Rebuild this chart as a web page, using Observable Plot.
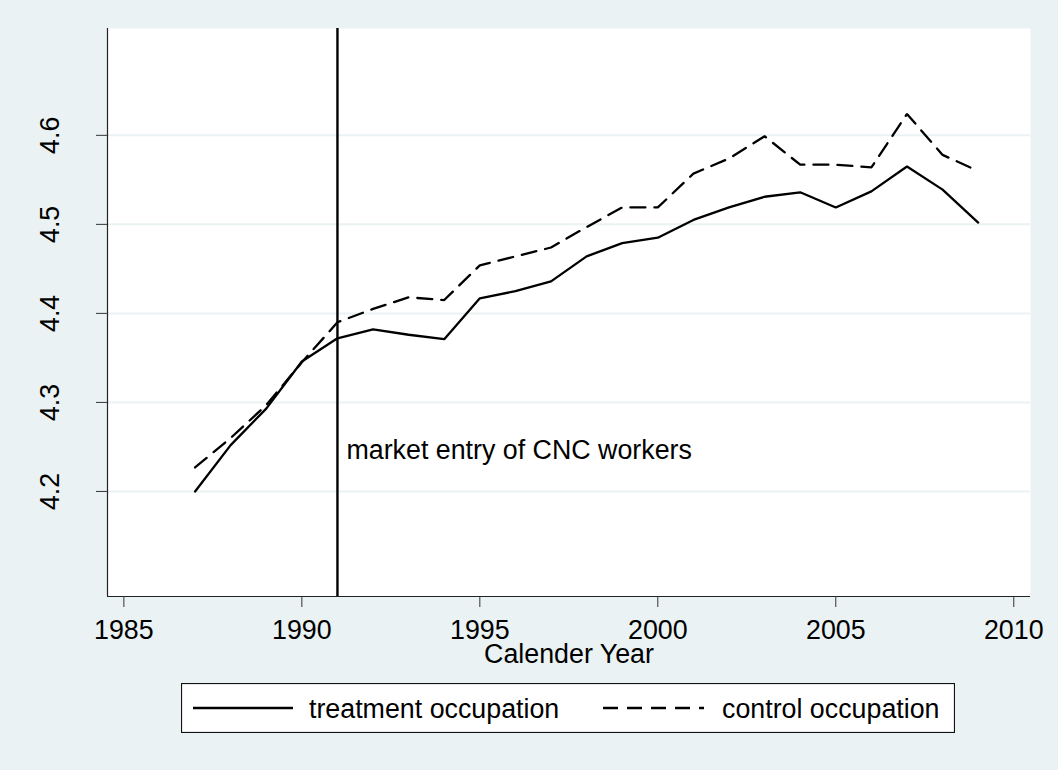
<!DOCTYPE html>
<html>
<head>
<meta charset="utf-8">
<script src="https://cdn.jsdelivr.net/npm/d3@7"></script>
<script src="https://cdn.jsdelivr.net/npm/@observablehq/plot@0.6"></script>
<style>
  html, body { margin: 0; padding: 0; background: #EAF2F3; }
  #wrap { position: relative; width: 1058px; height: 770px; background: #EAF2F3; overflow: hidden;
          font-family: "Liberation Sans", Arial, Helvetica, sans-serif; }
  #chart { position: absolute; left: 0; top: 0; }
  #legend { position: absolute; left: 181px; top: 683px; }
</style>
</head>
<body>
<div id="wrap">
  <div id="chart"></div>
  <div id="legend"></div>
</div>
<script>
// ---- data ----
const years = [1987, 1988, 1989, 1990, 1991, 1992, 1993, 1994, 1995, 1996, 1997, 1998,
               1999, 2000, 2001, 2002, 2003, 2004, 2005, 2006, 2007, 2008, 2009];
const treatment = [4.200, 4.252, 4.293, 4.346, 4.372, 4.382, 4.376, 4.371, 4.417, 4.425, 4.436, 4.464,
                   4.479, 4.485, 4.505, 4.519, 4.531, 4.536, 4.519, 4.537, 4.565, 4.539, 4.502];
const control = [4.227, 4.260, 4.297, 4.345, 4.390, 4.405, 4.418, 4.415, 4.454, 4.464, 4.474, 4.497,
                 4.519, 4.519, 4.557, 4.574, 4.599, 4.567, 4.567, 4.564, 4.624, 4.578, 4.560];
const seriesNames = ["treatment occupation", "control occupation"];
const xTicks = [1985, 1990, 1995, 2000, 2005, 2010];
const yTicks = [4.2, 4.3, 4.4, 4.5, 4.6];
const xDomain = [1984.54, 2010.47];
const yDomain = [4.082, 4.720];
const entryYear = [1991];
const annotation = [{year: 1991, value: 4.246, text: "market entry of CNC workers"}];
const xLabel = "Calender Year";

const treatRows = years.map((y, i) => ({year: y, value: treatment[i]}));
const ctrlRows = years.map((y, i) => ({year: y, value: control[i]}));

const FONT = "Liberation Sans, Arial, Helvetica, sans-serif";
const FS = 26.8;
const DASH = "15,9";

const chart = Plot.plot({
  width: 1058,
  height: 770,
  marginLeft: 107,
  marginRight: 28,
  marginTop: 28,
  marginBottom: 174,
  style: {background: "transparent", fontFamily: FONT, fontSize: FS + "px", color: "#000"},
  x: {domain: xDomain},
  y: {domain: yDomain},
  marks: [
    Plot.frame({fill: "white", stroke: null}),
    Plot.gridY(yTicks, {stroke: "#EAF2F3", strokeOpacity: 1, strokeWidth: 2}),
    Plot.ruleX([xDomain[0]], {stroke: "#222", strokeWidth: 1.2}),
    Plot.ruleY([yDomain[0]], {stroke: "#222", strokeWidth: 1.2}),
    Plot.axisX({ticks: xTicks, tickSize: 11, tickPadding: 12, tickFormat: d => String(d),
                label: null, fontSize: FS, stroke: "#333"}),
    Plot.axisY({ticks: yTicks, tickSize: 11, tickFormat: () => "", label: null, stroke: "#333"}),
    Plot.text(yTicks, {y: d => d, frameAnchor: "left", dx: -57.5, rotate: -90,
                       text: d => d.toFixed(1), textAnchor: "middle", lineAnchor: "middle",
                       fontSize: FS, fill: "#000"}),
    Plot.ruleX(entryYear, {stroke: "#000", strokeWidth: 2.4}),
    Plot.text(annotation, {x: "year", y: "value", text: "text", textAnchor: "start",
                           lineAnchor: "middle", dx: 9, fontSize: FS, fill: "#000"}),
    Plot.line(treatRows, {x: "year", y: "value", stroke: "#000", strokeWidth: 2.3,
                          strokeLinejoin: "miter"}),
    Plot.line(ctrlRows, {x: "year", y: "value", stroke: "#000", strokeWidth: 2.3,
                         strokeDasharray: DASH, strokeLinejoin: "miter"}),
    Plot.text([xLabel], {frameAnchor: "bottom", dy: 66.5, lineAnchor: "bottom",
                         fontSize: FS, fill: "#000"})
  ]
});
document.getElementById("chart").appendChild(chart);

// ---- legend ----
const ns = "http://www.w3.org/2000/svg";
const lg = document.createElementNS(ns, "svg");
lg.setAttribute("width", 774);
lg.setAttribute("height", 50);
lg.style.fontFamily = FONT;
const box = document.createElementNS(ns, "rect");
box.setAttribute("x", 0.5); box.setAttribute("y", 0.5);
box.setAttribute("width", 773); box.setAttribute("height", 49);
box.setAttribute("fill", "white"); box.setAttribute("stroke", "#111"); box.setAttribute("stroke-width", 1.2);
lg.appendChild(box);
const items = [
  {x1: 12, x2: 112, tx: 128, dash: null},
  {x1: 422, x2: 523, tx: 541, dash: DASH}
];
items.forEach((it, i) => {
  const ln = document.createElementNS(ns, "line");
  ln.setAttribute("x1", it.x1); ln.setAttribute("x2", it.x2);
  ln.setAttribute("y1", 25); ln.setAttribute("y2", 25);
  ln.setAttribute("stroke", "#000"); ln.setAttribute("stroke-width", 2.3);
  if (it.dash) ln.setAttribute("stroke-dasharray", it.dash);
  lg.appendChild(ln);
  const t = document.createElementNS(ns, "text");
  t.setAttribute("x", it.tx); t.setAttribute("y", 35);
  t.setAttribute("font-size", FS); t.setAttribute("fill", "#000");
  t.textContent = seriesNames[i];
  lg.appendChild(t);
});
document.getElementById("legend").appendChild(lg);
</script>
</body>
</html>
